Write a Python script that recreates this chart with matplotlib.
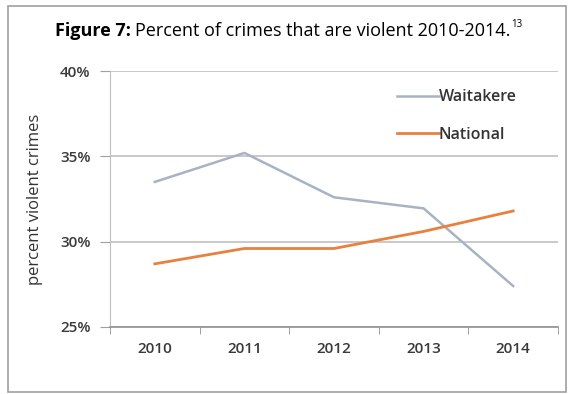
import matplotlib.pyplot as plt
from matplotlib.patches import Rectangle

years = ["2010", "2011", "2012", "2013", "2014"]
waitakere = [33.5, 35.2, 32.6, 31.95, 27.4]
national = [28.7, 29.6, 29.6, 30.6, 31.8]
yticks = [25, 30, 35, 40]

plt.rcParams['font.family'] = ['Open Sans', 'DejaVu Sans']

W, H = 569, 394
fig = plt.figure(figsize=(W / 100, H / 100), dpi=100)

# outer frame
fig.patches.append(Rectangle((8 / W, 2 / H), 558 / W, 386 / H,
                             transform=fig.transFigure, fill=False,
                             edgecolor='#a0a0a0', linewidth=1.2))

ax = fig.add_axes([110 / W, 1 - 327 / H, 448 / W, 256 / H])
x = list(range(len(years)))
ax.plot(x, waitakere, color='#a7b3c4', linewidth=1.8, label='Waitakere')
ax.plot(x, national, color='#e8813f', linewidth=2.0, label='National')

ax.set_xlim(-0.5, 4.5)
ax.set_ylim(25, 40)
ax.set_yticks(yticks)
ax.set_yticklabels([f"{v}%" for v in yticks])
ax.set_xticks(x)
ax.set_xticklabels(years)
ax.set_xticks([i - 0.5 for i in range(len(years) + 1)], minor=True)
ax.tick_params(axis='x', which='major', length=0, pad=11)
ax.tick_params(axis='x', which='minor', length=5, color='#909090')
ax.tick_params(axis='y', length=7, color='#a0a0a0', pad=7)
ax.tick_params(labelsize=11, labelcolor='#3a3a3a')
for lab in ax.get_xticklabels() + ax.get_yticklabels():
    lab.set_fontweight('semibold')

ax.grid(axis='y', color='#c0c0c0', linewidth=1.2)
ax.set_axisbelow(True)
for s in ['top', 'right']:
    ax.spines[s].set_visible(False)
ax.spines['left'].set_color('#c0c0c0')
ax.spines['bottom'].set_color('#909090')
ax.spines['bottom'].set_linewidth(1.2)

ax.set_ylabel('percent violent crimes', fontsize=12, color='#333333')
ax.yaxis.set_label_coords((43 - 110) / 448, 0.5)

leg = ax.legend(loc='center left', bbox_to_anchor=((397 - 110) / 448, (327 - 116) / 256),
                frameon=False, handlelength=2.6, handletextpad=0.0,
                labelspacing=1.35, fontsize=11.5, borderpad=0, borderaxespad=0)
for t in leg.get_texts():
    t.set_fontweight('semibold')
    t.set_color('#333333')

# title: bold prefix, regular text, superscript footnote
ty = 1 - 36 / H
t1 = fig.text(55 / W, ty, "Figure 7:", fontsize=13, fontweight='bold',
              va='baseline', color='black')
fig.canvas.draw()
bb = t1.get_window_extent()
t2 = fig.text((bb.x1 + 4) / W, ty, "Percent of crimes that are violent 2010-2014.",
              fontsize=13, va='baseline', color='black')
fig.canvas.draw()
bb2 = t2.get_window_extent()
fig.text((bb2.x1 + 1) / W, 1 - 27 / H, "13", fontsize=7, va='baseline', color='black')

fig.savefig('out.png', dpi=100)
